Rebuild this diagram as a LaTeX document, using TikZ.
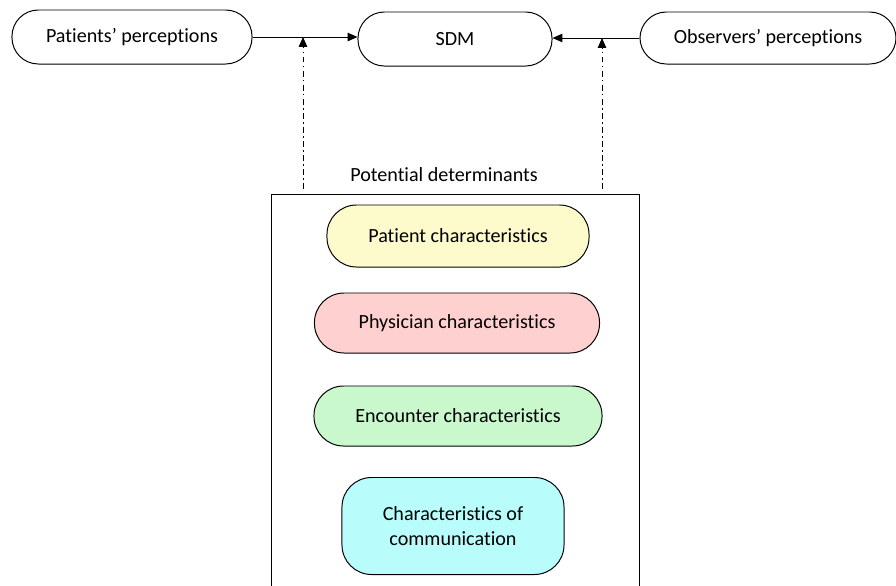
\documentclass[tikz,border=0pt]{standalone}
\usepackage{fontspec}
\setmainfont{Carlito}[Ligatures=NoCommon]
\usepackage{tikz}
\usetikzlibrary{positioning, arrows.meta, calc}
\definecolor{patfill}{HTML}{FDFBCB}
\definecolor{phyfill}{HTML}{FFD0D0}
\definecolor{encfill}{HTML}{C8F8CC}
\definecolor{comfill}{HTML}{B8FCFC}
\tikzset{
  perception/.style={rectangle, rounded corners=0.66cm, minimum height=1.35cm, align=center, draw=black, fill=white},
  determinant/.style={rectangle, rounded corners=0.74cm, minimum height=1.5cm, align=center, draw=black},
  arrow/.style={->,>={Triangle[length=7pt,width=6pt]}},
  influence/.style={->,>={Triangle[length=7pt,width=6pt]}, dash pattern=on 4pt off 2.5pt on 1pt off 2.5pt}
}

\begin{document}
\begin{tikzpicture}[x=0.025cm, y=-0.025cm, line width=0.7pt, every node/.style={font=\fontsize{14.3}{17.5}\selectfont}]
            \useasboundingbox (0,0) rectangle (896,586);

            % Fila superior
            \node (pat) [perception, minimum width=6cm] at (132,37) {Patients’ perceptions};
            \node (sdm) [perception, minimum width=4.85cm] at (455,39) {SDM};
            \node (obs) [perception, minimum width=6.4cm, minimum height=1.3cm] at (768,38) {Observers’ perceptions};

            % Caja de determinantes
            \node (det) [draw=black, minimum width=9.175cm, minimum height=9.85cm] at (455.5,392) {};
            \node (dettitle) at (444,175) {Potential determinants};

            \node (patchar) [determinant, fill=patfill, minimum width=6.55cm, minimum height=1.55cm] at (458,236) {Patient characteristics};
            \node (phychar) [determinant, fill=phyfill, minimum width=7.125cm] at (457,323) {Physician characteristics};
            \node (encchar) [determinant, fill=encfill, minimum width=7.2cm] at (458,416) {Encounter characteristics};
            \node (comchar) [determinant, fill=comfill, minimum width=5.55cm, minimum height=2.425cm] at (453,526) {Characteristics of\\communication};

            % Flechas principales
            \draw [arrow] (pat.east) -- (pat.east -| sdm.west);
            \draw [arrow] (obs.west) -- (obs.west -| sdm.east);

            % Influencia de los determinantes
            \coordinate (infl) at (303,189);
            \coordinate (infr) at (602,189);
            \draw [influence] (infl) -- (infl |- pat.east);
            \draw [influence] (infr) -- (infr |- obs.west);
        \end{tikzpicture}
\end{document}
